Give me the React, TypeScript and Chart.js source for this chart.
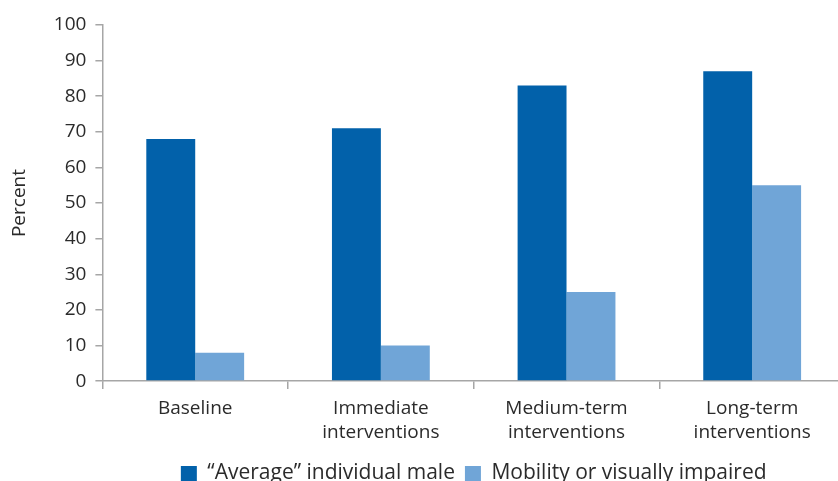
import React, { useEffect, useRef } from "react";
import { Chart, registerables } from "chart.js";

Chart.register(...registerables);

const categories: (string | string[])[] = [
  "Baseline",
  ["Immediate", "interventions"],
  ["Medium-term", "interventions"],
  ["Long-term", "interventions"],
];
const averageMale = [68, 71, 83, 87];
const impaired = [8, 10, 25, 55];
const seriesNames = ["\u201CAverage\u201D individual male", "Mobility or visually impaired"];
const yTicks = { min: 0, max: 100, step: 10 };

const FONT = "'Open Sans', 'Noto Sans', sans-serif";
const TEXT = "#2b2b2b";
const AXIS = "#a6a6a6";

export default function App() {
  const ref = useRef<HTMLCanvasElement | null>(null);
  useEffect(() => {
    if (!ref.current) return;
    const chart = new Chart(ref.current, {
      type: "bar",
      data: {
        labels: categories,
        datasets: [
          {
            label: seriesNames[0],
            data: averageMale,
            backgroundColor: "#0261AA",
            categoryPercentage: 0.527,
            barPercentage: 1,
          },
          {
            label: seriesNames[1],
            data: impaired,
            backgroundColor: "#70A5D7",
            categoryPercentage: 0.527,
            barPercentage: 1,
          },
        ],
      },
      options: {
        animation: false,
        responsive: false,
        maintainAspectRatio: false,
        layout: { padding: { left: 8, right: 97, top: 25, bottom: 0 } },
        plugins: {
          tooltip: { enabled: false },
          legend: {
            position: "bottom",
            fullSize: false,
            labels: {
              boxWidth: 16,
              boxHeight: 15,
              padding: 10,
              color: TEXT,
              font: { family: FONT, size: 21 },
            },
          },
        },
        scales: {
          x: {
            grid: {
              offset: true,
              drawOnChartArea: false,
              tickLength: 8,
              color: AXIS,
              lineWidth: 1.5,
            },
            border: { color: AXIS, width: 1.5 },
            ticks: {
              color: TEXT,
              font: { family: FONT, size: 19, lineHeight: 1.26 },
              padding: 8,
              maxRotation: 0,
            },
          },
          y: {
            min: yTicks.min,
            max: yTicks.max,
            grid: {
              drawOnChartArea: false,
              tickLength: 7,
              color: AXIS,
              lineWidth: 1.5,
            },
            border: { color: AXIS, width: 1.5 },
            ticks: {
              stepSize: yTicks.step,
              color: TEXT,
              font: { family: FONT, size: 19 },
              padding: 9,
            },
            title: {
              display: true,
              text: "Percent",
              color: TEXT,
              font: { family: FONT, size: 19, lineHeight: 1.2 },
              padding: { top: 0, bottom: 14 },
            },
          },
        },
      },
    });
    return () => chart.destroy();
  }, []);
  return (
    <div style={{ position: "absolute", left: 0, top: 0, width: 838, height: 481, overflow: "hidden", background: "#fff" }}>
      <canvas ref={ref} width={942} height={494} style={{ display: "block" }} />
    </div>
  );
}
